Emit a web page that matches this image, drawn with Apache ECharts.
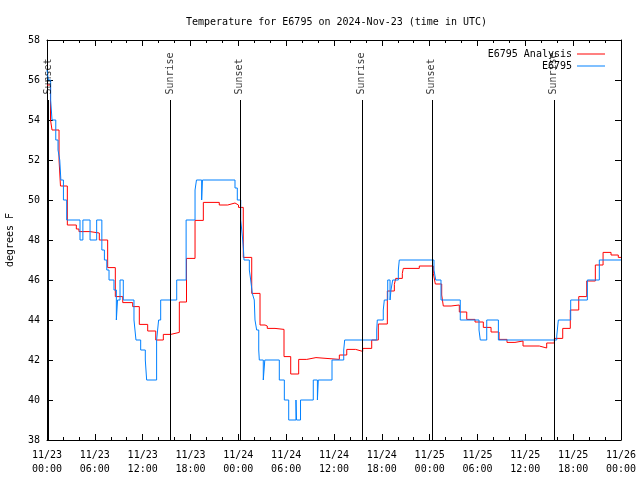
<!DOCTYPE html>
<html><head><meta charset="utf-8">
<script src="https://cdn.jsdelivr.net/npm/echarts@6/dist/echarts.min.js"></script>
<style>html,body{margin:0;padding:0;background:#fff}#c{width:640px;height:480px}</style>
</head><body><div id="c"></div>
<script>
// hours since 2024-11-23 00:00 UTC
var redTimes = [0,0.44,0.63,1.51,1.69,2.55,3.68,4.01,5.39,6.56,7.61,8.57,9.5,10.75,11.58,12.63,13.64,14.59,15.52,16.6,17.5,18.57,19.61,21.61,22.67,23.58,24.02,24.62,25.68,26.72,27.35,27.63,28.6,29.73,30.57,31.57,32.58,33.74,36.67,37.6,38.72,39.6,40.73,41.56,42.69,43.57,43.74,44.57,44.69,46.7,48.46,48.71,49.51,49.71,50.68,51.72,52.65,53.69,54.73,55.7,56.7,57.7,58.7,59.71,61.75,62.68,63.64,64.69,65.64,66.7,67.7,68.78,69.75,70.75,71.66,72];
var redTemps = [55.75,54.0,53.5,52.0,50.7,48.75,48.55,48.42,48.35,48.0,46.62,45.17,44.87,44.67,43.78,43.45,43.0,43.28,43.38,44.9,47.08,48.98,49.88,49.75,49.85,49.75,49.63,47.13,45.33,43.75,43.7,43.58,43.53,42.17,41.3,42.03,42.12,42.03,42.25,42.53,42.43,42.58,43.0,43.8,45.45,45.78,46.08,46.33,46.58,46.7,46.33,45.8,45.25,44.7,44.75,44.4,44.03,43.9,43.63,43.4,43.03,42.88,42.95,42.7,42.6,42.85,43.08,43.58,44.5,45.17,45.95,46.75,47.38,47.25,47.13,47.13];
var blueTimes = [0,0.17,0.46,0.63,1.1,1.38,1.6,1.74,2.06,2.47,4.14,4.5,5.4,6.23,6.88,7.2,7.5,7.78,8.4,8.7,8.85,9.16,9.57,10.91,11.16,11.75,12.33,12.5,13.75,14.0,14.26,16.27,17.45,18.57,18.75,19.4,19.5,23.58,23.87,24.3,24.55,24.65,24.71,25.38,25.55,25.75,26.0,26.09,26.3,26.56,26.63,27.13,27.32,29.14,29.77,30.32,31.23,31.3,31.8,33.4,33.92,34.03,35.75,37.22,37.34,41.36,41.43,42.18,42.31,42.74,43.03,43.15,43.36,44.07,44.19,48.54,48.76,49.42,51.84,54.19,54.35,55.16,56.62,63.94,64.14,65.69,67.78,69.28,72];
var blueTemps = [56.5,56.0,55.0,54.0,53.0,52.5,52.0,51.0,50.0,49.0,48.0,49.0,48.0,49.0,47.5,47.0,46.5,46.0,45.5,44.0,45.0,46.0,45.0,44.0,43.0,42.5,42.0,41.0,43.0,44.0,45.0,46.0,49.0,50.5,51.0,50.0,51.0,50.6,50.0,49.0,48.0,47.5,47.0,46.5,46.0,45.33,45.0,44.0,43.5,42.5,42.0,41.0,42.0,41.0,40.0,39.0,40.0,39.0,40.0,41.0,40.0,41.0,42.0,42.5,43.0,43.5,44.0,44.5,45.0,46.0,45.0,45.5,46.0,46.5,47.0,46.5,46.0,45.0,44.0,43.5,43.0,44.0,43.0,43.2,44.0,45.0,46.0,47.0,47.0];
var sunNames = ['Sunset','Sunrise','Sunset','Sunrise','Sunset','Sunrise'];
var sunTimes = [0.2,15.5,24.25,39.5,48.3,63.6];
var xTickLabels = ['11/23\n00:00','11/23\n06:00','11/23\n12:00','11/23\n18:00','11/24\n00:00','11/24\n06:00','11/24\n12:00','11/24\n18:00','11/25\n00:00','11/25\n06:00','11/25\n12:00','11/25\n18:00','11/26\n00:00'];
var seriesNames = ['E6795 Analysis','E6795'];
var titleText = 'Temperature for E6795 on 2024-Nov-23 (time in UTC)';
var yName = 'degrees F';

var FONT = 'DejaVu Sans Mono';
function zip(a,b){return a.map(function(v,i){return [v,b[i]];});}
var chart = echarts.init(document.getElementById('c'), null, {renderer:'canvas'});
var axCommon = {
  axisLine:{show:true,onZero:false,lineStyle:{color:'#000',width:1}},
  axisTick:{show:true,inside:true,length:6,lineStyle:{color:'#000'}},
  splitLine:{show:false}
};
var lineTop = 55.0;
chart.setOption({
  animation:false,
  title:{text:titleText,left:181,top:12,textStyle:{fontFamily:FONT,fontSize:10,fontWeight:'normal',color:'#000'}},
  grid:{left:47,right:19,top:40,bottom:40,containLabel:false,outerBoundsMode:'none'},
  legend:[
    {data:[seriesNames[0]],right:30,top:44,align:'right',icon:'rect',itemWidth:28,itemHeight:1,
     textStyle:{fontFamily:FONT,fontSize:10,color:'#000'}},
    {data:[seriesNames[1]],right:30,top:56,align:'right',icon:'rect',itemWidth:28,itemHeight:1,
     textStyle:{fontFamily:FONT,fontSize:10,color:'#000'}}
  ],
  xAxis:[
    Object.assign({type:'value',min:0,max:72,interval:6,position:'bottom',
      minorTick:{show:true,splitNumber:3,length:3,lineStyle:{color:'#000'}},
      axisLabel:{margin:8,lineHeight:14,fontFamily:FONT,fontSize:10,color:'#000',
        formatter:function(v){return xTickLabels[Math.round(v/6)];}}},axCommon),
    Object.assign({type:'value',min:0,max:72,interval:6,position:'top',
      minorTick:{show:true,splitNumber:3,length:3,lineStyle:{color:'#000'}},
      axisLabel:{show:false}},axCommon)
  ],
  yAxis:[
    Object.assign({type:'value',min:38,max:58,interval:2,position:'left',
      name:yName,nameLocation:'middle',nameGap:32,nameRotate:90,
      nameTextStyle:{fontFamily:FONT,fontSize:10,color:'#000'},
      axisLabel:{margin:7,fontFamily:FONT,fontSize:10,color:'#000'}},axCommon),
    Object.assign({type:'value',min:38,max:58,interval:2,position:'right',
      axisLabel:{show:false}},axCommon)
  ],
  series:[
    {name:seriesNames[0],type:'line',step:'end',showSymbol:false,symbol:'none',
     data:zip(redTimes,redTemps),lineStyle:{color:'#ff0000',width:1},itemStyle:{color:'#ff0000'},z:2,
     markLine:{silent:true,symbol:['none','none'],label:{show:false},
       lineStyle:{color:'#000',width:1,type:'solid'},
       data:sunTimes.map(function(t){return [{coord:[t,38]},{coord:[t,lineTop]}];})}},
    {name:seriesNames[1],type:'line',step:'end',showSymbol:false,symbol:'none',
     data:zip(blueTimes,blueTemps),lineStyle:{color:'#0080ff',width:1},itemStyle:{color:'#0080ff'},z:3},
    {type:'scatter',symbolSize:1,itemStyle:{color:'rgba(0,0,0,0)'},silent:true,z:4,
     data:sunTimes.map(function(t,i){return [t,lineTop,sunNames[i]];}),
     label:{show:true,rotate:90,position:[0,-5],align:'left',verticalAlign:'middle',
       fontFamily:FONT,fontSize:10,color:'#000',formatter:function(p){return p.data[2];}}}
  ]
});
</script></body></html>
